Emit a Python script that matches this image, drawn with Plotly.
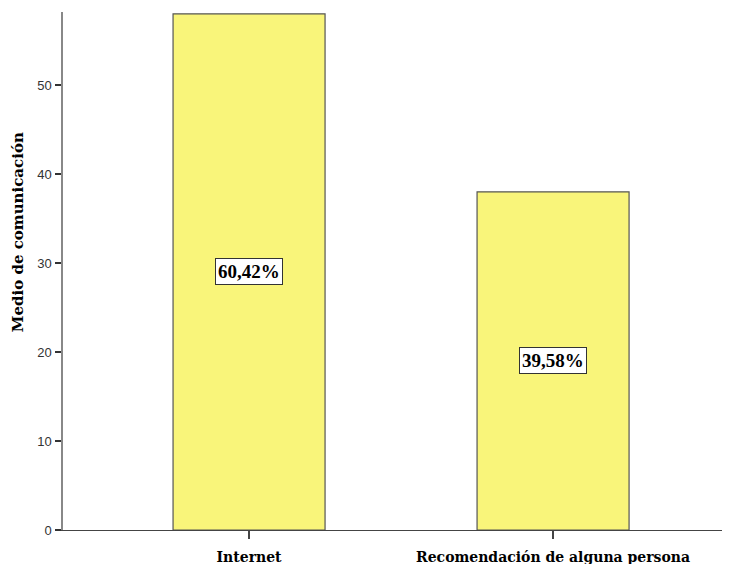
import plotly.graph_objects as go

categories = ["Internet", "Recomendación de alguna persona"]
counts = [58, 38]
percent_labels = ["60,42%", "39,58%"]
y_ticks = [0, 10, 20, 30, 40, 50]
y_title = "Medio de comunicación"

fig = go.Figure()
fig.add_trace(go.Bar(
    x=categories, y=counts, width=0.5,
    marker=dict(color="#f9f57a", line=dict(color="#555555", width=1.2)),
    hoverinfo="skip",
))

for c, v, t in zip(categories, counts, percent_labels):
    fig.add_annotation(
        x=c, y=v / 2, text=t, showarrow=False,
        font=dict(family="Liberation Serif", size=19, color="black", weight="bold"),
        bgcolor="white", bordercolor="#333333", borderwidth=1, borderpad=2,
    )

fig.add_annotation(
    xref="paper", yref="paper", x=-0.0675, y=0.575, xanchor="center", yanchor="middle",
    text=y_title, textangle=-90, showarrow=False,
    font=dict(family="DejaVu Serif", size=15, color="black", weight="bold"),
)

fig.update_layout(
    width=722, height=556,
    margin=dict(l=55, r=0, t=4, b=34),
    plot_bgcolor="white", paper_bgcolor="white",
    showlegend=False,
    xaxis=dict(
        range=[-0.612, 1.582],
        showline=True, linecolor="#444444", linewidth=1.2,
        ticks="outside", ticklen=8, tickcolor="#444444", tickwidth=1.5,
        ticklabelstandoff=6,
        tickfont=dict(family="DejaVu Serif", size=14, color="black", weight="bold"),
        showgrid=False, zeroline=False,
    ),
    yaxis=dict(
        range=[0, 58.2],
        tickvals=y_ticks,
        showline=True, linecolor="#888888", linewidth=1.5,
        ticks="outside", ticklen=6, tickcolor="#333333", tickwidth=1.5,
        ticklabelstandoff=1,
        tickfont=dict(family="Liberation Sans", size=13, color="#333333"),
        showgrid=False, zeroline=False,
    ),
)

fig.write_html("out.html")
